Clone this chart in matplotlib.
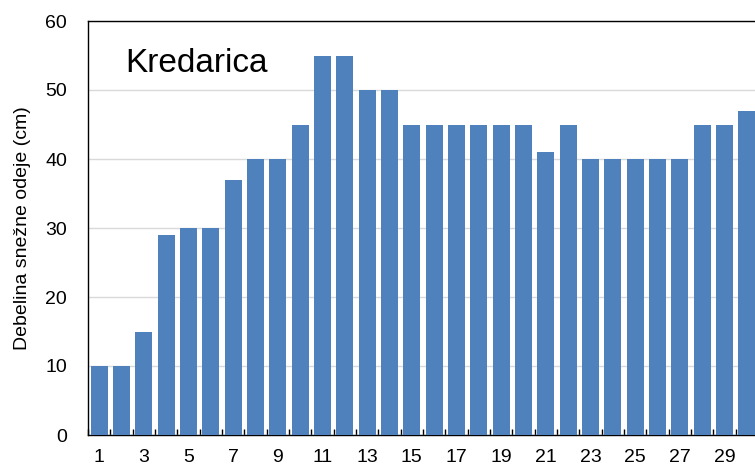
import matplotlib.pyplot as plt
import numpy as np

plt.rcParams['font.family'] = ['Liberation Sans', 'DejaVu Sans']

# Snow depth per day
days = list(range(1, 31))
depth = [10, 10, 15, 29, 30, 30, 37, 40, 40, 45,
         55, 55, 50, 50, 45, 45, 45, 45, 45, 45,
         41, 45, 40, 40, 40, 40, 40, 45, 45, 47]
tick_days = [1, 3, 5, 7, 9, 11, 13, 15, 17, 19, 21, 23, 25, 27, 29]

fig = plt.figure(figsize=(7.55, 4.67), dpi=100)
ax = fig.add_axes([88 / 755, 1 - 435 / 467, (758 - 88) / 755, (435 - 21) / 467])

x = np.arange(len(days))
ax.bar(x, depth, width=0.76, color='#4F81BD', zorder=3)

ax.set_xlim(-0.5, len(days) - 0.5)
ax.set_ylim(0, 60)
ax.set_yticks(range(0, 61, 10))
ax.grid(axis='y', color='#D9D9D9', linewidth=1, zorder=0)

# labels at centres, tick marks at category boundaries
ax.set_xticks([d - 1 for d in tick_days])
ax.set_xticklabels([str(d) for d in tick_days])
ax.set_xticks(np.arange(-0.5, len(days), 1), minor=True)
ax.tick_params(axis='x', which='major', length=0, pad=10, labelsize=14)
ax.tick_params(axis='x', which='minor', direction='in', length=4, width=1)
ax.tick_params(axis='y', length=0, pad=15, labelsize=14)

for s in ['left', 'bottom', 'top', 'right']:
    ax.spines[s].set_color('black')
    ax.spines[s].set_linewidth(1)

ax.set_ylabel('Debelina snežne odeje (cm)', fontsize=14, labelpad=10)
ax.text(125 / 755, 1 - 72 / 467, 'Kredarica', transform=fig.transFigure,
        fontsize=24, va='baseline', ha='left')

fig.savefig('out.png', dpi=100)
